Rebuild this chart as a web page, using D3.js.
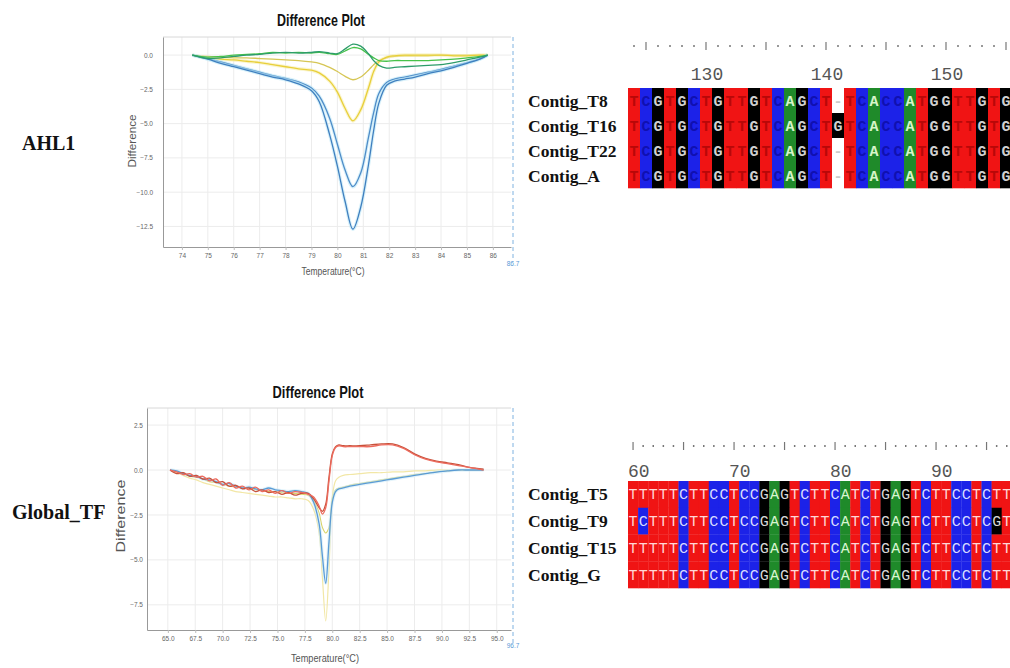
<!DOCTYPE html>
<html lang="en">
<head>
    <meta charset="UTF-8">
    <title>Difference Plots and Contig Alignments</title>
    <script src="https://d3js.org/d3.v7.min.js"></script>
    <style>
        body { margin: 0; background: #fff; }
        svg { display: block; }

        .tick-label {
            font-family: Arial, "Liberation Sans", sans-serif;
            font-size: 6.5px;
            fill: #666;
        }

        .plot-title {
            font-family: Arial, "Liberation Sans", sans-serif;
            font-weight: bold;
            font-size: 17px;
            fill: #111;
        }

        .axis-title {
            font-family: Arial, "Liberation Sans", sans-serif;
            fill: #555;
        }

        .gene-label {
            font-family: "Liberation Serif", "Times New Roman", serif;
            font-weight: bold;
            font-size: 20px;
            fill: #111;
        }

        .contig-label {
            font-family: "Liberation Serif", "Times New Roman", serif;
            font-weight: bold;
            font-size: 17.5px;
            fill: #111;
        }

        .ruler-num {
            font-family: "Liberation Mono", "DejaVu Sans Mono", monospace;
            font-size: 18px;
            fill: #555;
        }
    </style>
</head>
<body>
<svg id="figure" width="1010" height="668"></svg>

<script>
    // ---------------- AHL1 difference plot data ----------------
    const ahlTemps = [74.4, 75.0, 75.5, 76.0, 76.5, 77.0, 77.5, 78.0, 78.5, 79.0, 79.3, 79.7, 80.0, 80.3, 80.6,
                      80.9, 81.2, 81.4, 81.6, 81.9, 82.2, 82.6, 83.0, 83.5, 84.0, 84.5, 85.0, 85.5, 85.8];
    const ahlBlueDeep = [0, -0.3, -0.6, -0.85, -1.1, -1.35, -1.6, -1.8, -2.1, -2.6, -3.4, -5.8, -8.1, -10.7, -12.7,
                         -11.1, -8.0, -5.5, -3.5, -2.2, -1.9, -1.75, -1.6, -1.35, -1.15, -0.9, -0.6, -0.3, 0];
    const ahlBlue = [0, -0.25, -0.5, -0.75, -1.0, -1.25, -1.5, -1.7, -1.95, -2.4, -3.0, -4.6, -6.5, -8.4, -9.6,
                     -8.6, -6.0, -4.2, -2.8, -2.0, -1.75, -1.6, -1.45, -1.25, -1.05, -0.8, -0.55, -0.25, 0];
    const ahlYellow = [0, -0.2, -0.3, -0.35, -0.45, -0.55, -0.7, -0.85, -1.0, -1.1, -1.3, -1.9, -2.7, -3.9, -4.8,
                       -4.0, -2.4, -1.2, -0.5, -0.15, -0.05, 0, 0, 0, 0, -0.05, -0.05, 0, 0];
    const ahlKhaki = [0, -0.1, -0.15, -0.2, -0.2, -0.25, -0.3, -0.35, -0.4, -0.5, -0.6, -0.9, -1.2, -1.55, -1.8,
                      -1.6, -1.1, -0.7, -0.4, -0.2, -0.1, -0.05, -0.05, -0.05, 0, 0, 0, 0, 0];
    const ahlGreenA = [0, -0.25, -0.2, -0.1, 0.0, 0.05, 0.15, 0.2, 0.15, 0.2, 0.25, 0.15, 0.1, 0.45, 0.8,
                       0.65, 0.1, -0.4, -0.75, -0.95, -0.9, -0.85, -0.8, -0.75, -0.7, -0.55, -0.35, -0.15, 0];
    const ahlGreenB = [0, -0.15, -0.1, 0.0, 0.05, 0.1, 0.2, 0.15, 0.2, 0.15, 0.2, 0.1, 0.05, 0.3, 0.55,
                       0.45, 0.05, -0.2, -0.4, -0.45, -0.4, -0.4, -0.4, -0.4, -0.35, -0.3, -0.2, -0.1, 0];
    const ahlXTicks = [74, 75, 76, 77, 78, 79, 80, 81, 82, 83, 84, 85, 86];
    const ahlYTicks = [0, -2.5, -5, -7.5, -10, -12.5];

    // ---------------- Global_TF difference plot data ----------------
    const gtfTemps = [65.2, 65.8, 66.4, 67.0, 67.6, 68.2, 68.8, 69.4, 70.0, 70.6, 71.2, 71.8, 72.4, 73.0, 73.6,
                      74.2, 74.8, 75.4, 76.0, 76.6, 77.2, 77.8, 78.3, 78.8, 79.1, 79.4, 79.7, 80.0, 80.3, 80.6,
                      81.0, 81.6, 82.5, 83.5, 84.5, 85.5, 86.5, 87.5, 88.5, 89.5, 90.5, 91.5, 92.5, 93.8];
    const gtfRedA = [0, -0.1, -0.25, -0.2, -0.4, -0.35, -0.6, -0.5, -0.85, -0.7, -1.0, -0.9, -1.1, -0.95, -1.2,
                     -1.1, -1.3, -1.15, -1.3, -1.2, -1.25, -1.35, -1.5, -2.0, -2.45, -2.1, -0.6, 0.8, 1.25, 1.35,
                     1.3, 1.3, 1.3, 1.3, 1.4, 1.4, 1.2, 0.85, 0.6, 0.45, 0.35, 0.25, 0.15, 0];
    const gtfRedB = [0, -0.2, -0.15, -0.35, -0.3, -0.5, -0.45, -0.7, -0.65, -0.9, -0.85, -1.05, -1.0, -1.2, -1.1,
                     -1.25, -1.2, -1.35, -1.25, -1.4, -1.3, -1.3, -1.6, -2.1, -2.3, -1.9, -0.4, 0.9, 1.3, 1.4,
                     1.35, 1.35, 1.35, 1.4, 1.45, 1.45, 1.25, 0.9, 0.65, 0.5, 0.4, 0.3, 0.15, 0.05];
    const gtfBlue = [0, -0.05, -0.2, -0.3, -0.35, -0.5, -0.55, -0.65, -0.8, -0.75, -0.9, -1.0, -0.95, -1.05, -1.1,
                     -1.0, -1.1, -1.15, -1.2, -1.15, -1.2, -1.3, -1.8, -3.0, -4.8, -6.3, -4.0, -1.8, -1.2, -1.05,
                     -1.0, -0.9, -0.8, -0.7, -0.6, -0.5, -0.4, -0.3, -0.2, -0.12, -0.05, 0, 0, 0];
    const gtfYellowGreen = [0, -0.1, -0.2, -0.35, -0.4, -0.5, -0.65, -0.7, -0.8, -0.9, -0.95, -1.0, -1.05, -1.1, -1.15,
                            -1.2, -1.2, -1.25, -1.3, -1.3, -1.35, -1.4, -1.7, -2.4, -3.2, -3.5, -3.2, -1.6, -1.1, -1.0,
                            -0.95, -0.85, -0.75, -0.65, -0.55, -0.45, -0.35, -0.25, -0.2, -0.1, -0.05, 0, 0, 0];
    const gtfPaleYellow = [0, -0.15, -0.3, -0.45, -0.55, -0.7, -0.8, -0.9, -1.0, -1.1, -1.2, -1.25, -1.3, -1.35, -1.4,
                           -1.45, -1.5, -1.5, -1.55, -1.6, -1.6, -1.7, -2.2, -3.5, -6.0, -8.4, -5.5, -1.5, -0.6, -0.4,
                           -0.3, -0.25, -0.2, -0.15, -0.15, -0.1, -0.1, -0.05, -0.05, 0, 0, 0, 0, 0];
    const gtfXTicks = [65, 67.5, 70, 72.5, 75, 77.5, 80, 82.5, 85, 87.5, 90, 92.5, 95];
    const gtfYTicks = [2.5, 0, -2.5, -5, -7.5];

    // ---------------- alignments ----------------
    const ahlStart = 124;
    const ahlContigs = ["Contig_T8", "Contig_T16", "Contig_T22", "Contig_A"];
    const ahlSequences = [
        "TCGTGCTGTTGTCAGCT-TCACCATGGTTGTG",
        "TCGTGCTGTTGTCAGCTGTCACCATGGTTGTG",
        "TCGTGCTGTTGTCAGCT-TCACCATGGTTGTG",
        "TCGTGCTGTTGTCAGCT-TCACCATGGTTGTG"
    ];
    const ahlRulerLabels = [130, 140, 150];

    const gtfStart = 60;
    const gtfContigs = ["Contig_T5", "Contig_T9", "Contig_T15", "Contig_G"];
    const gtfSequences = [
        "TTTTTCTTCCTCCGAGTCTTCATCTGAGTCTTCCTCTT",
        "TCTTTCTTCCTCCGAGTCTTCATCTGAGTCTTCCTCGT",
        "TTTTTCTTCCTCCGAGTCTTCATCTGAGTCTTCCTCTT",
        "TTTTTCTTCCTCCGAGTCTTCATCTGAGTCTTCCTCTT"
    ];
    const gtfRulerLabels = [60, 70, 80, 90];

    // base colours
    const baseFill = { A: "#1f8a2a", C: "#1c22e8", G: "#000000", T: "#f01414", "-": "#ffffff" };

    const svg = d3.select("#figure");

    function drawDifferencePlot(cfg) {
        const g = svg.append("g");
        const x = d3.scaleLinear().domain(cfg.xDomain).range([cfg.left, cfg.right]);
        const y = d3.scaleLinear().domain(cfg.yDomain).range([cfg.top, cfg.bottom]);

        // grid lines
        g.selectAll(".vgrid").data(cfg.xTicks).join("line")
            .attr("x1", d => x(d)).attr("x2", d => x(d))
            .attr("y1", cfg.top).attr("y2", cfg.bottom)
            .attr("stroke", "#ececec");
        g.selectAll(".hgrid").data(cfg.yTicks).join("line")
            .attr("x1", cfg.left).attr("x2", cfg.right)
            .attr("y1", d => y(d)).attr("y2", d => y(d))
            .attr("stroke", "#ececec");

        // top border
        g.append("line")
            .attr("x1", cfg.left).attr("x2", cfg.right)
            .attr("y1", cfg.top).attr("y2", cfg.top)
            .attr("stroke", "#d8d8d8");

        // x axis
        g.append("g")
            .attr("transform", "translate(0," + cfg.bottom + ")")
            .call(d3.axisBottom(x).tickValues(cfg.xTicks).tickFormat(cfg.xFormat)
                .tickSize(3).tickSizeOuter(0).tickPadding(3))
            .call(a => a.select(".domain").attr("stroke", "#999"))
            .call(a => a.selectAll(".tick line").attr("stroke", "#bbb"))
            .call(a => a.selectAll(".tick text").attr("class", "tick-label")
                .attr("font-size", null).attr("fill", null));

        // y axis
        g.append("g")
            .attr("transform", "translate(" + cfg.left + ",0)")
            .call(d3.axisLeft(y).tickValues(cfg.yTicks).tickFormat(d3.format(".1f"))
                .tickSize(0).tickSizeOuter(0).tickPadding(cfg.yPad))
            .call(a => a.select(".domain").attr("stroke", "#999"))
            .call(a => a.selectAll(".tick text").attr("class", "tick-label")
                .attr("font-size", null).attr("fill", null)
                .text(d => d3.format(".1f")(d).replace("-", "-")));

        // dashed right marker with its value
        g.append("line")
            .attr("x1", cfg.right + 2).attr("x2", cfg.right + 2)
            .attr("y1", cfg.top).attr("y2", cfg.markerBottom)
            .attr("stroke", "#7fb2e0").attr("stroke-dasharray", "4,3");
        g.append("text")
            .attr("x", cfg.right + 2).attr("y", cfg.markerBottom + 4)
            .attr("text-anchor", "middle")
            .attr("class", "tick-label")
            .style("fill", "#5a9ad6")
            .text(cfg.markerLabel);

        // curves
        const line = d3.line()
            .x(d => x(d[0]))
            .y(d => y(d[1]))
            .curve(d3.curveCatmullRom.alpha(0.5));

        cfg.series.forEach(s => {
            const pts = d3.zip(cfg.temps, s.values);
            if (s.halo) {
                g.append("path").datum(pts)
                    .attr("d", line).attr("fill", "none")
                    .attr("stroke", s.halo).attr("stroke-width", 3.5)
                    .attr("stroke-opacity", 0.55);
            }
            g.append("path").datum(pts)
                .attr("d", line).attr("fill", "none")
                .attr("stroke", s.color).attr("stroke-width", s.width || 1.3)
                .attr("stroke-opacity", s.opacity || 1);
        });

        // titles
        g.append("text")
            .attr("class", "plot-title")
            .attr("x", cfg.titleX).attr("y", cfg.titleY)
            .attr("text-anchor", "middle")
            .attr("textLength", cfg.titleLen).attr("lengthAdjust", "spacingAndGlyphs")
            .text("Difference Plot");
        g.append("text")
            .attr("class", "axis-title")
            .attr("x", (cfg.left + cfg.right) / 2 - 4).attr("y", cfg.xTitleY)
            .attr("text-anchor", "middle")
            .style("font-size", cfg.xTitleSize + "px")
            .attr("textLength", cfg.xTitleLen).attr("lengthAdjust", "spacingAndGlyphs")
            .text("Temperature(°C)");
        g.append("text")
            .attr("class", "axis-title")
            .attr("transform", "translate(" + cfg.yTitleX + "," + cfg.yTitleY + ") rotate(-90)")
            .attr("text-anchor", "middle")
            .style("font-size", cfg.yTitleSize + "px")
            .attr("textLength", cfg.yTitleLen).attr("lengthAdjust", "spacingAndGlyphs")
            .text("Difference");
    }

    drawDifferencePlot({
        left: 163, right: 511, top: 37, bottom: 247,
        xDomain: [73.27, 86.7], yDomain: [1.32, -14.0],
        xTicks: ahlXTicks, yTicks: ahlYTicks, xFormat: d3.format("d"),
        yPad: 10, markerBottom: 262, markerLabel: "86.7",
        titleX: 321, titleY: 26, titleLen: 88,
        xTitleY: 275, xTitleSize: 10, xTitleLen: 63,
        yTitleX: 136, yTitleY: 141, yTitleSize: 10, yTitleLen: 53,
        temps: ahlTemps,
        series: [
            { values: ahlKhaki, color: "#d6c655" },
            { values: ahlYellow, color: "#e8cf3a", halo: "#f6eca8" },
            { values: ahlBlue, color: "#4e8cc8", halo: "#b8e6f6" },
            { values: ahlBlueDeep, color: "#3f7fbf", halo: "#b8e6f6" },
            { values: ahlGreenB, color: "#47c24a" },
            { values: ahlGreenA, color: "#2d9c6a" }
        ]
    });

    drawDifferencePlot({
        left: 147, right: 511, top: 408, bottom: 630,
        xDomain: [63.1, 96.3], yDomain: [3.45, -8.9],
        xTicks: gtfXTicks, yTicks: gtfYTicks, xFormat: d3.format(".1f"),
        yPad: 4, markerBottom: 644, markerLabel: "96.7",
        titleX: 318, titleY: 398, titleLen: 91,
        xTitleY: 662, xTitleSize: 11, xTitleLen: 68,
        yTitleX: 125, yTitleY: 516, yTitleSize: 12, yTitleLen: 73,
        temps: gtfTemps,
        series: [
            { values: gtfPaleYellow, color: "#f2e7a6", width: 1.2 },
            { values: gtfYellowGreen, color: "#d9d46a", width: 1.1 },
            { values: gtfBlue, color: "#5a9bd5", halo: "#cdebf8" },
            { values: gtfRedB, color: "#c8513a" },
            { values: gtfRedA, color: "#ec6b5e" }
        ]
    });

    // ---------------- alignment panels ----------------
    function drawAlignment(cfg) {
        const g = svg.append("g");
        const nCols = cfg.sequences[0].length;
        const positions = d3.range(cfg.start, cfg.start + nCols);
        const col = d3.scaleBand().domain(positions).range([cfg.left, cfg.left + nCols * cfg.colWidth]);
        const row = d3.scaleBand().domain(cfg.contigs).range([cfg.top, cfg.bottom]);

        // ruler: dots for every column, bars every 5
        g.selectAll(".rtick").data(positions).join("line")
            .attr("x1", p => col(p) + col.bandwidth() / 2)
            .attr("x2", p => col(p) + col.bandwidth() / 2)
            .attr("y1", p => p % 5 === 0 ? cfg.rulerY - 4 : cfg.rulerY - 1)
            .attr("y2", p => p % 5 === 0 ? cfg.rulerY + 4 : cfg.rulerY + 1)
            .attr("stroke", "#777")
            .attr("stroke-width", p => p % 5 === 0 ? 1.2 : 1.5);

        g.selectAll(".rnum").data(cfg.rulerLabels).join("text")
            .attr("class", "ruler-num")
            .attr("x", p => cfg.numAnchor === "middle" ? col(p) + col.bandwidth() / 2 + 1 : col(p))
            .attr("y", cfg.numY)
            .attr("text-anchor", cfg.numAnchor)
            .text(p => p);

        // contig names
        g.selectAll(".clabel").data(cfg.contigs).join("text")
            .attr("class", "contig-label")
            .attr("x", 528)
            .attr("y", c => row(c) + row.bandwidth() / 2 + 6)
            .text(c => c);

        // cells
        const cells = [];
        cfg.sequences.forEach((seq, i) => {
            seq.split("").forEach((b, j) => cells.push({ contig: cfg.contigs[i], pos: cfg.start + j, base: b }));
        });

        g.selectAll(".cell").data(cells).join("rect")
            .attr("x", d => col(d.pos))
            .attr("y", d => row(d.contig))
            .attr("width", col.bandwidth() + 0.3)
            .attr("height", row.bandwidth() + 0.3)
            .attr("fill", d => baseFill[d.base]);

        g.selectAll(".letter").data(cells).join("text")
            .attr("x", d => col(d.pos) + col.bandwidth() / 2)
            .attr("y", d => row(d.contig) + row.bandwidth() / 2 + 5)
            .attr("text-anchor", "middle")
            .style("font-family", "'Liberation Mono', 'DejaVu Sans Mono', monospace")
            .style("font-size", cfg.letterSize + "px")
            .style("font-weight", cfg.letterWeight)
            .attr("fill", d => cfg.letterFill[d.base])
            .text(d => d.base);
    }

    drawAlignment({
        start: ahlStart, contigs: ahlContigs, sequences: ahlSequences, rulerLabels: ahlRulerLabels,
        left: 628, colWidth: 12, top: 88, bottom: 188,
        rulerY: 46, numY: 80, numAnchor: "middle",
        letterSize: 15, letterWeight: "bold",
        letterFill: { A: "#d6f5c8", C: "#1010b0", G: "#d0d0d0", T: "#b80808", "-": "#cccccc" }
    });

    drawAlignment({
        start: gtfStart, contigs: gtfContigs, sequences: gtfSequences, rulerLabels: gtfRulerLabels,
        left: 628, colWidth: 10.1, top: 481, bottom: 588,
        rulerY: 446, numY: 477, numAnchor: "start",
        letterSize: 15, letterWeight: "normal",
        letterFill: { A: "#d8f5d0", C: "#d8dcff", G: "#d8d8d8", T: "#ffd6d6", "-": "#cccccc" }
    });

    // gene names on the far left
    svg.append("text").attr("class", "gene-label").attr("x", 22).attr("y", 150).text("AHL1");
    svg.append("text").attr("class", "gene-label").attr("x", 12).attr("y", 519).text("Global_TF");
</script>
</body>
</html>
